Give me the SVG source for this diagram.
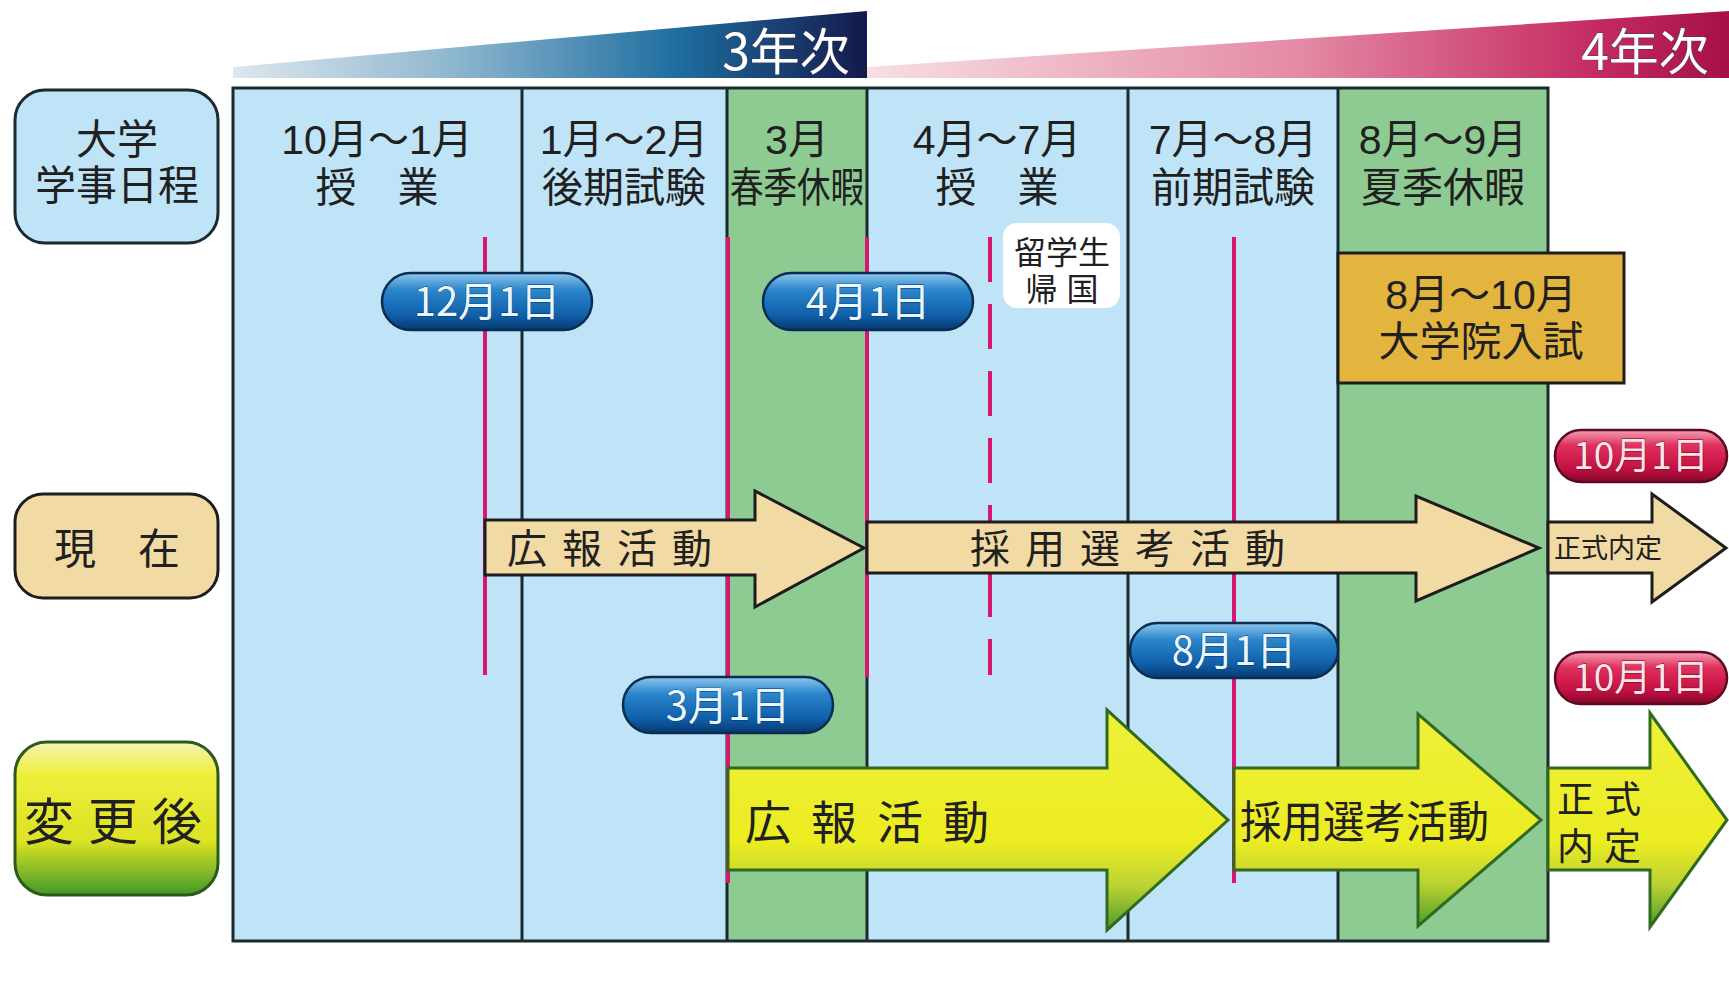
<svg xmlns="http://www.w3.org/2000/svg" width="1729" height="1005" viewBox="0 0 1729 1005">
<defs>
<linearGradient id="gBlueBand" gradientUnits="userSpaceOnUse" x1="233" y1="0" x2="867" y2="0">
<stop offset="0" stop-color="#dfe7ee"/><stop offset="0.35" stop-color="#8db6cf"/><stop offset="0.7" stop-color="#1f6ea0"/><stop offset="1" stop-color="#15194c"/>
</linearGradient>
<linearGradient id="gPinkBand" gradientUnits="userSpaceOnUse" x1="867" y1="0" x2="1729" y2="0">
<stop offset="0" stop-color="#f7dfe4"/><stop offset="0.5" stop-color="#e48aa4"/><stop offset="0.85" stop-color="#c42a62"/><stop offset="1" stop-color="#a60f48"/>
</linearGradient>
<linearGradient id="gPillBlue" x1="0" y1="0" x2="0" y2="1">
<stop offset="0" stop-color="#8fc6ee"/><stop offset="0.3" stop-color="#2b86cc"/><stop offset="0.75" stop-color="#0f5ea8"/><stop offset="1" stop-color="#08396f"/>
</linearGradient>
<linearGradient id="gPillRed" x1="0" y1="0" x2="0" y2="1">
<stop offset="0" stop-color="#f3a0b4"/><stop offset="0.3" stop-color="#e0305c"/><stop offset="0.75" stop-color="#c21042"/><stop offset="1" stop-color="#82082a"/>
</linearGradient>
<linearGradient id="gYellow" x1="0" y1="0" x2="0" y2="1">
<stop offset="0" stop-color="#eef03a"/><stop offset="0.6" stop-color="#ecec22"/><stop offset="0.8" stop-color="#bcd232"/><stop offset="1" stop-color="#4c9c2c"/>
</linearGradient>
<linearGradient id="gHenko" x1="0" y1="0" x2="0" y2="1">
<stop offset="0" stop-color="#f4f3b4"/><stop offset="0.22" stop-color="#eeee3a"/><stop offset="0.65" stop-color="#dce224"/><stop offset="1" stop-color="#3f992b"/>
</linearGradient>
<style>
.t{font-family:"Liberation Sans","Noto Sans CJK JP",sans-serif;fill:#202020}
.hd{font-size:41px;text-anchor:middle}
.band{font-family:"Noto Sans CJK JP","Noto Sans",sans-serif;font-size:50px;fill:#ffffff;stroke:#3a3a5a;stroke-width:0.8px;paint-order:stroke}
.col{stroke:none}
.blue{fill:#bfe4f7}
.green{fill:#8ecb92}
.div{stroke:#1b2a2c;stroke-width:3;fill:none}
.pink{stroke:#d6166f;stroke-width:4;fill:none}
.pill{stroke:#0b2c50;stroke-width:2.5}
.pillr{stroke:#5c0a22;stroke-width:2.5}
.pt{font-family:"Noto Sans CJK JP","Noto Sans",sans-serif;font-size:40px;fill:#e8f7ff;text-anchor:middle;stroke:#0a3560;stroke-width:0.8px;paint-order:stroke}
.ptr{font-family:"Noto Sans CJK JP","Noto Sans",sans-serif;font-size:37px;fill:#fde2ea;text-anchor:middle;stroke:#6a0a26;stroke-width:0.8px;paint-order:stroke}
.tan{fill:#f1daa4;stroke:#1d1d1d;stroke-width:3;stroke-linejoin:miter}
.yel{fill:url(#gYellow);stroke:#2f6a1f;stroke-width:3}
</style>
</defs>
<rect x="0" y="0" width="1729" height="1005" fill="#ffffff"/>

<g id="year-bands">
<polygon points="233,67 867,11 867,78 233,78" fill="url(#gBlueBand)"/>
<polygon points="867,67 1729,11 1729,78 867,78" fill="url(#gPinkBand)"/>
<text class="band" x="786" y="70" text-anchor="middle">3年次</text>
<text class="band" x="1645" y="70" text-anchor="middle">4年次</text>
</g>

<g id="label-gakuji">
<rect x="15" y="90" width="203" height="153" rx="30" fill="#bfe4f7" stroke="#1b2a33" stroke-width="3"/>
<text class="t hd"><tspan x="117" y="154">大学</tspan><tspan x="117" y="200">学事日程</tspan></text>
</g>
<g id="label-genzai">
<rect x="15" y="494" width="203" height="104" rx="28" fill="#f1daa4" stroke="#1d1d1d" stroke-width="3"/>
<text class="t" x="117" y="564" font-size="42" text-anchor="middle">現　在</text>
</g>
<g id="label-henkougo">
<rect x="15" y="742" width="203" height="153" rx="32" fill="url(#gHenko)" stroke="#2d5a1c" stroke-width="3"/>
<text class="t" x="120" y="840" font-size="50" text-anchor="middle" letter-spacing="14">変更後</text>
</g>

<g id="calendar">
<rect class="col blue" x="233" y="88" width="289" height="853"/>
<rect class="col blue" x="522" y="88" width="205" height="853"/>
<rect class="col green" x="727" y="88" width="140" height="853"/>
<rect class="col blue" x="867" y="88" width="261" height="853"/>
<rect class="col blue" x="1128" y="88" width="210" height="853"/>
<rect class="col green" x="1338" y="88" width="210" height="853"/>
<rect x="233" y="88" width="1315" height="853" class="div"/>
<line class="div" x1="522" y1="88" x2="522" y2="941"/>
<line class="div" x1="727" y1="88" x2="727" y2="941"/>
<line class="div" x1="867" y1="88" x2="867" y2="941"/>
<line class="div" x1="1128" y1="88" x2="1128" y2="941"/>
<line class="div" x1="1338" y1="88" x2="1338" y2="941"/>
</g>

<g id="col-oct-jan"><text class="t hd"><tspan x="377" y="154">10月～1月</tspan><tspan x="377" y="202">授　業</tspan></text></g>
<g id="col-jan-feb"><text class="t hd"><tspan x="624" y="154">1月～2月</tspan><tspan x="624" y="202">後期試験</tspan></text></g>
<g id="col-mar"><text class="t hd"><tspan x="797" y="154">3月</tspan></text><text class="t hd" x="797" y="202" textLength="134" lengthAdjust="spacingAndGlyphs">春季休暇</text></g>
<g id="col-apr-jul"><text class="t hd"><tspan x="997" y="154">4月～7月</tspan><tspan x="997" y="202">授　業</tspan></text></g>
<g id="col-jul-aug"><text class="t hd"><tspan x="1233" y="154">7月～8月</tspan><tspan x="1233" y="202">前期試験</tspan></text></g>
<g id="col-aug-sep"><text class="t hd"><tspan x="1443" y="154">8月～9月</tspan><tspan x="1443" y="202">夏季休暇</tspan></text></g>

<g id="grad-exam">
<rect x="1338" y="253" width="286" height="130" fill="#e3b53e" stroke="#1d1d1d" stroke-width="3"/>
<text class="t hd"><tspan x="1481" y="309">8月～10月</tspan><tspan x="1481" y="356">大学院入試</tspan></text>
</g>

<g id="ryugakusei">
<rect x="1003" y="223" width="117" height="85" rx="14" fill="#ffffff"/>
<text class="t" font-size="32" text-anchor="middle"><tspan x="1062" y="264">留学生</tspan><tspan x="1062" y="301">帰 国</tspan></text>
</g>

<g id="connectors">
<line class="pink" x1="485" y1="237" x2="485" y2="675"/>
<line class="pink" x1="728" y1="237" x2="728" y2="883"/>
<line class="pink" x1="867" y1="237" x2="867" y2="677"/>
<line class="pink" x1="990" y1="237" x2="990" y2="675" stroke-dasharray="45,22"/>
<line class="pink" x1="1234" y1="237" x2="1234" y2="883"/>
</g>

<g id="now-pr">
<polygon class="tan" points="485,520 755,520 755,491 864,548 755,607 755,575 485,575"/>
<text class="t" x="507" y="563" font-size="40" letter-spacing="15">広報活動</text>
</g>
<g id="now-select">
<polygon class="tan" points="867,522 1416,522 1416,496 1539,548 1416,601 1416,573 867,573"/>
<text class="t" x="970" y="563" font-size="40" letter-spacing="15">採用選考活動</text>
</g>
<g id="now-offer">
<polygon class="tan" points="1548,522 1652,522 1652,494 1726,548 1652,602 1652,573 1548,573"/>
<text class="t" x="1554" y="558" font-size="27">正式内定</text>
</g>

<g id="new-pr">
<polygon class="yel" points="728,768 1107,768 1107,710 1228,820 1107,930 1107,870 728,870"/>
<text class="t" x="745" y="839" font-size="46" letter-spacing="20">広報活動</text>
</g>
<g id="new-select">
<polygon class="yel" points="1234,768 1418,768 1418,714 1541,820 1418,926 1418,870 1234,870"/>
<text class="t" x="1240" y="838" font-size="44" textLength="249" lengthAdjust="spacingAndGlyphs">採用選考活動</text>
</g>
<g id="new-offer">
<polygon class="yel" points="1548,768 1650,768 1650,713 1727,820 1650,927 1650,870 1548,870"/>
<text class="t" font-size="37" letter-spacing="10"><tspan x="1557" y="813">正式</tspan><tspan x="1557" y="860">内定</tspan></text>
</g>

<g id="pill-dec1">
<rect class="pill" x="382" y="273" width="210" height="57" rx="28.5" fill="url(#gPillBlue)"/>
<text class="pt" x="487" y="316">12月1日</text>
</g>
<g id="pill-apr1">
<rect class="pill" x="763" y="273" width="210" height="57" rx="28.5" fill="url(#gPillBlue)"/>
<text class="pt" x="868" y="316">4月1日</text>
</g>
<g id="pill-mar1">
<rect class="pill" x="623" y="677" width="210" height="56" rx="28" fill="url(#gPillBlue)"/>
<text class="pt" x="728" y="720">3月1日</text>
</g>
<g id="pill-aug1">
<rect class="pill" x="1130" y="623" width="208" height="55" rx="27.5" fill="url(#gPillBlue)"/>
<text class="pt" x="1234" y="665">8月1日</text>
</g>
<g id="pill-oct1-now">
<rect class="pillr" x="1555" y="430" width="172" height="52" rx="26" fill="url(#gPillRed)"/>
<text class="ptr" x="1641" y="469">10月1日</text>
</g>
<g id="pill-oct1-new">
<rect class="pillr" x="1555" y="652" width="172" height="52" rx="26" fill="url(#gPillRed)"/>
<text class="ptr" x="1641" y="691">10月1日</text>
</g>
</svg>
